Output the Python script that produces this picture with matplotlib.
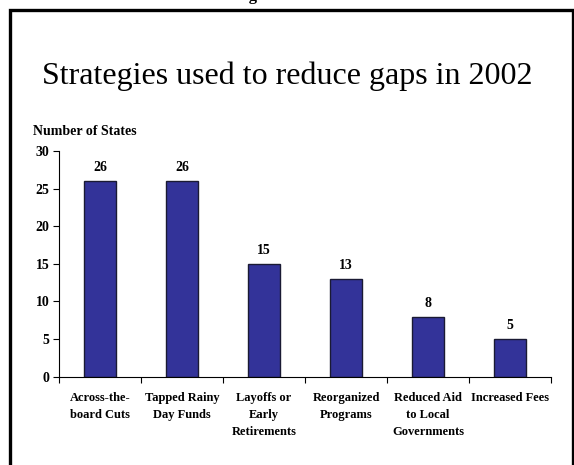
import numpy as np
import matplotlib.pyplot as plt
from matplotlib.patches import Rectangle

# strategies and number of states using each one
strategies = ["Across-the-\nboard Cuts", "Tapped Rainy\nDay Funds", "Layoffs or\nEarly\nRetirements",
              "Reorganized\nPrograms", "Reduced Aid\nto Local\nGovernments", "Increased Fees"]
states = [26, 26, 15, 13, 8, 5]
yticks = [0, 5, 10, 15, 20, 25, 30]

plt.rcParams['font.family'] = ['Liberation Serif', 'DejaVu Serif']

fig = plt.figure(figsize=(5.74, 4.65), dpi=100)
ax = fig.add_axes([0.1028, 0.19, 0.8572, 0.485])

x = np.arange(len(states))
ax.bar(x, states, width=0.4, color='#333399', edgecolor='#1a1a33', linewidth=1.0)

for xi, v in zip(x, states):
    ax.text(xi, v + 0.9, str(v), ha='center', va='bottom', fontsize=10, fontweight='bold')

ax.set_xlim(-0.5, len(states) - 0.5)
ax.set_ylim(0, 30)
ax.set_yticks(yticks)
ax.set_yticklabels([str(t) for t in yticks], fontsize=10, fontweight='bold')

# category labels sit between the boundary ticks
ax.set_xticks(np.arange(-0.5, len(states)), minor=False)
ax.set_xticklabels([])
ax.set_xticks(x, minor=True)
ax.set_xticklabels(strategies, minor=True, fontsize=9, fontweight='bold', linespacing=1.55, va='top')
ax.tick_params(axis='x', which='minor', length=0, pad=11)
ax.tick_params(axis='x', which='major', length=4, direction='out', width=0.8)
ax.tick_params(axis='y', length=4, direction='out', width=0.8, pad=3)

for s in ['top', 'right']:
    ax.spines[s].set_visible(False)
for s in ['left', 'bottom']:
    ax.spines[s].set_linewidth(0.8)

fig.text(0.057, 0.718, "Number of States", fontsize=10, fontweight='bold', va='center')
fig.text(0.5, 0.836, "Strategies used to reduce gaps in 2002", fontsize=23, ha='center', va='center')

# caption of the page, cut at the top edge
fig.text(0.46, 1 + 0.5 / 465, "Figure 3", fontsize=12, fontweight='bold', ha='center', va='baseline')

# slide frame
fig.patches.append(Rectangle((9.5 / 574, -0.1), 563 / 574, 1.1 - 10.5 / 465, transform=fig.transFigure,
                             fill=False, edgecolor='black', linewidth=2.4))

fig.savefig("out.png", dpi=100)
